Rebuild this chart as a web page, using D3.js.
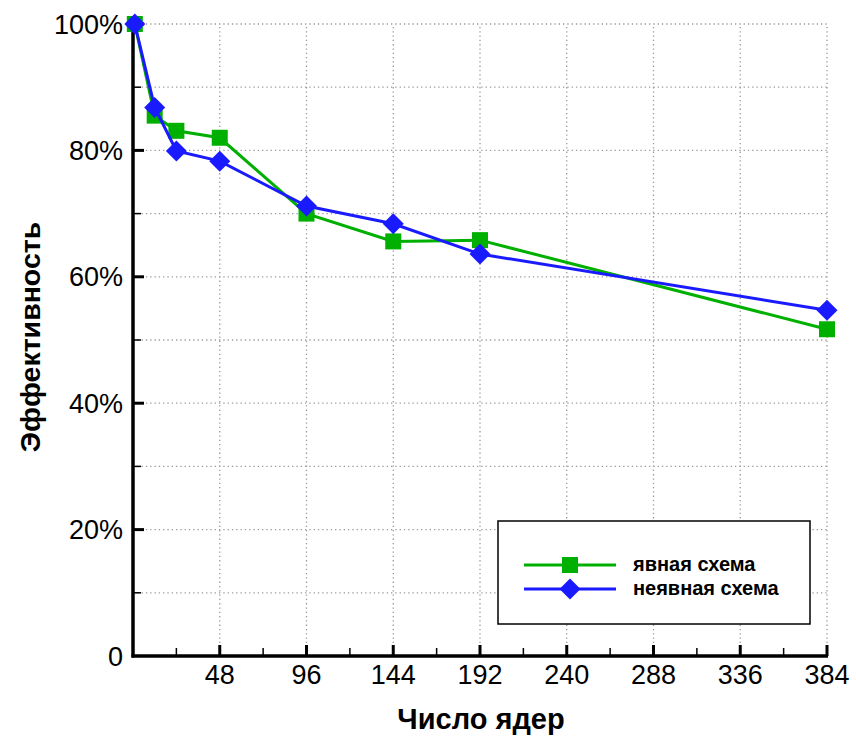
<!DOCTYPE html>
<html><head><meta charset="utf-8">
<script src="https://cdn.jsdelivr.net/npm/d3@7"></script>
<style>body{margin:0;background:#fff}svg{display:block}text{font-family:"Liberation Sans",Arial,sans-serif}</style>
</head><body><svg id="c" width="856" height="740"></svg>
<script>
const cores = [1, 12, 24, 48, 96, 144, 192, 384];
const explicitEff = [1.000, 0.855, 0.831, 0.820, 0.700, 0.656, 0.658, 0.517];
const implicitEff = [1.000, 0.868, 0.799, 0.783, 0.712, 0.684, 0.636, 0.547];
const seriesNames = ["явная схема", "неявная схема"];
const xTicks = [48, 96, 144, 192, 240, 288, 336, 384];
const xMinorTicks = [24, 72, 120, 168, 216, 264, 312, 360];
const yTicks = [0, 0.2, 0.4, 0.6, 0.8, 1.0];
const yTickLabels = ["0", "20%", "40%", "60%", "80%", "100%"];
const yMinorTicks = [0.1, 0.3, 0.5, 0.7, 0.9];
const yGrid = [0.1,0.2,0.3,0.4,0.5,0.6,0.7,0.8,0.9,1.0];
const xTitle = "Число ядер", yTitle = "Эффективность";

const svg = d3.select("#c");
const x = d3.scaleLinear().domain([0, 384]).range([133, 827]);
const y = d3.scaleLinear().domain([0, 1]).range([656, 24]);
const GREEN = "#00b000", BLUE = "#1a1aff";

// grid
const g = svg.append("g").attr("stroke", "#999").attr("stroke-width", 1.3).attr("stroke-dasharray", "1.3,3");
g.selectAll("line.h").data(yGrid).join("line")
  .attr("x1", x(0)).attr("x2", x(384)).attr("y1", d => y(d)).attr("y2", d => y(d));
g.selectAll("line.v").data(xTicks).join("line").attr("class","v")
  .attr("x1", d => x(d)).attr("x2", d => x(d)).attr("y1", y(0)).attr("y2", y(1));

// axes
const ax = svg.append("g").attr("stroke", "#000");
ax.append("line").attr("x1", x(0)).attr("x2", x(0)).attr("y1", y(1) - 1.5).attr("y2", y(0) + 1.5).attr("stroke-width", 3.5);
ax.append("line").attr("x1", x(0) - 1.5).attr("x2", x(384) + 1).attr("y1", y(0)).attr("y2", y(0)).attr("stroke-width", 3.5);
ax.selectAll("line.xt").data(xTicks).join("line").attr("class","xt")
  .attr("x1", d => x(d)).attr("x2", d => x(d)).attr("y1", y(0)).attr("y2", y(0) - 11).attr("stroke-width", 3);
ax.selectAll("line.xm").data(xMinorTicks).join("line").attr("class","xm")
  .attr("x1", d => x(d)).attr("x2", d => x(d)).attr("y1", y(0)).attr("y2", y(0) - 8).attr("stroke-width", 1.5);
ax.selectAll("line.yt").data(yTicks.slice(1)).join("line").attr("class","yt")
  .attr("x1", x(0)).attr("x2", x(0) + 11).attr("y1", d => y(d)).attr("y2", d => y(d)).attr("stroke-width", 3);
ax.selectAll("line.ym").data(yMinorTicks).join("line").attr("class","ym")
  .attr("x1", x(0)).attr("x2", x(0) + 8).attr("y1", d => y(d)).attr("y2", d => y(d)).attr("stroke-width", 1.5);

// tick labels
svg.append("g").selectAll("text").data(xTicks).join("text")
  .attr("x", d => x(d)).attr("y", 684).attr("text-anchor", "middle")
  .attr("font-size", 27).text(d => d);
svg.append("g").selectAll("text").data(yTicks).join("text")
  .attr("x", 123).attr("y", d => y(d) + 9.5).attr("text-anchor", "end")
  .attr("font-size", 27).text((d, i) => yTickLabels[i]);

// titles
svg.append("text").attr("x", 481).attr("y", 729).attr("text-anchor", "middle")
  .attr("font-size", 29).attr("font-weight", "bold").text(xTitle);
svg.append("text").attr("transform", "translate(40,337) rotate(-90)").attr("text-anchor", "middle")
  .attr("font-size", 28.5).attr("font-weight", "bold").text(yTitle);

// series
const line = d3.line().x(d => x(d[0])).y(d => y(d[1]));
const sq = d3.symbol().type(d3.symbolSquare).size(256);
const dm = d3.symbol().type(d3.symbolSquare).size(220);
function drawSeries(vals, color, type) {
  const pts = cores.map((c, i) => [c, vals[i]]);
  svg.append("path").datum(pts).attr("d", line).attr("fill", "none").attr("stroke", color).attr("stroke-width", 3);
  svg.append("g").selectAll("path").data(pts).join("path")
    .attr("d", type === "sq" ? sq : dm)
    .attr("transform", d => `translate(${x(d[0])},${y(d[1])})` + (type === "sq" ? "" : " rotate(45)"))
    .attr("fill", color);
}
drawSeries(explicitEff, GREEN, "sq");
drawSeries(implicitEff, BLUE, "dm");

// legend
const lg = svg.append("g");
lg.append("rect").attr("x", 498).attr("y", 521).attr("width", 312).attr("height", 103)
  .attr("fill", "#fff").attr("stroke", "#000").attr("stroke-width", 1.5);
[[GREEN, "sq", 565], [BLUE, "dm", 589]].forEach((r, i) => {
  lg.append("line").attr("x1", 524).attr("x2", 616).attr("y1", r[2]).attr("y2", r[2]).attr("stroke", r[0]).attr("stroke-width", 3);
  lg.append("path").attr("d", r[1] === "sq" ? sq : dm)
    .attr("transform", `translate(570,${r[2]})` + (r[1] === "sq" ? "" : " rotate(45)")).attr("fill", r[0]);
  lg.append("text").attr("x", 633).attr("y", r[2] + 6).attr("font-size", 20).attr("font-weight", "bold").text(seriesNames[i]);
});
</script></body></html>
